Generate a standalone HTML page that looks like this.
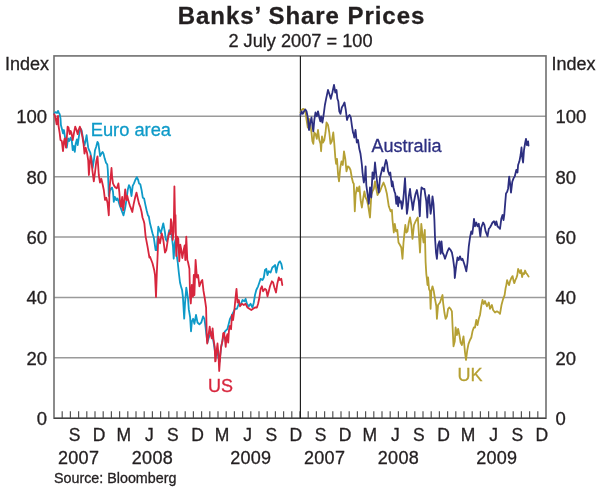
<!DOCTYPE html><html><head><meta charset="utf-8"><style>html,body{margin:0;padding:0;background:#fff;}svg{display:block;will-change:transform;}text{font-family:"Liberation Sans",sans-serif;fill:#231f20;stroke:#231f20;stroke-width:0.3px;}</style></head><body>
<svg width="600" height="488" viewBox="0 0 600 488">
<text x="301.5" y="24.4" font-size="24" font-weight="bold" letter-spacing="0.95" text-anchor="middle">Banks’ Share Prices</text>
<text x="300.5" y="47.3" font-size="18.2" text-anchor="middle">2 July 2007 = 100</text>
<line x1="54.0" y1="357.82" x2="546.0" y2="357.82" stroke="#9a9a9a" stroke-width="1.5"/>
<line x1="54.0" y1="297.44" x2="546.0" y2="297.44" stroke="#9a9a9a" stroke-width="1.5"/>
<line x1="54.0" y1="237.06" x2="546.0" y2="237.06" stroke="#9a9a9a" stroke-width="1.5"/>
<line x1="54.0" y1="176.68" x2="546.0" y2="176.68" stroke="#9a9a9a" stroke-width="1.5"/>
<line x1="54.0" y1="116.30" x2="546.0" y2="116.30" stroke="#9a9a9a" stroke-width="1.5"/>
<rect x="54.0" y="55.92" width="492.0" height="362.28" fill="none" stroke="#6f6f6f" stroke-width="1.6"/>
<line x1="62.20" y1="418.2" x2="62.20" y2="411.2" stroke="#555" stroke-width="1.2"/>
<line x1="70.40" y1="418.2" x2="70.40" y2="411.2" stroke="#555" stroke-width="1.2"/>
<line x1="78.60" y1="418.2" x2="78.60" y2="411.2" stroke="#555" stroke-width="1.2"/>
<line x1="86.80" y1="418.2" x2="86.80" y2="411.2" stroke="#555" stroke-width="1.2"/>
<line x1="95.00" y1="418.2" x2="95.00" y2="411.2" stroke="#555" stroke-width="1.2"/>
<line x1="103.20" y1="418.2" x2="103.20" y2="411.2" stroke="#555" stroke-width="1.2"/>
<line x1="111.40" y1="418.2" x2="111.40" y2="411.2" stroke="#555" stroke-width="1.2"/>
<line x1="119.60" y1="418.2" x2="119.60" y2="411.2" stroke="#555" stroke-width="1.2"/>
<line x1="127.80" y1="418.2" x2="127.80" y2="411.2" stroke="#555" stroke-width="1.2"/>
<line x1="136.00" y1="418.2" x2="136.00" y2="411.2" stroke="#555" stroke-width="1.2"/>
<line x1="144.20" y1="418.2" x2="144.20" y2="411.2" stroke="#555" stroke-width="1.2"/>
<line x1="152.40" y1="418.2" x2="152.40" y2="411.2" stroke="#555" stroke-width="1.2"/>
<line x1="160.60" y1="418.2" x2="160.60" y2="411.2" stroke="#555" stroke-width="1.2"/>
<line x1="168.80" y1="418.2" x2="168.80" y2="411.2" stroke="#555" stroke-width="1.2"/>
<line x1="177.00" y1="418.2" x2="177.00" y2="411.2" stroke="#555" stroke-width="1.2"/>
<line x1="185.20" y1="418.2" x2="185.20" y2="411.2" stroke="#555" stroke-width="1.2"/>
<line x1="193.40" y1="418.2" x2="193.40" y2="411.2" stroke="#555" stroke-width="1.2"/>
<line x1="201.60" y1="418.2" x2="201.60" y2="411.2" stroke="#555" stroke-width="1.2"/>
<line x1="209.80" y1="418.2" x2="209.80" y2="411.2" stroke="#555" stroke-width="1.2"/>
<line x1="218.00" y1="418.2" x2="218.00" y2="411.2" stroke="#555" stroke-width="1.2"/>
<line x1="226.20" y1="418.2" x2="226.20" y2="411.2" stroke="#555" stroke-width="1.2"/>
<line x1="234.40" y1="418.2" x2="234.40" y2="411.2" stroke="#555" stroke-width="1.2"/>
<line x1="242.60" y1="418.2" x2="242.60" y2="411.2" stroke="#555" stroke-width="1.2"/>
<line x1="250.80" y1="418.2" x2="250.80" y2="411.2" stroke="#555" stroke-width="1.2"/>
<line x1="259.00" y1="418.2" x2="259.00" y2="411.2" stroke="#555" stroke-width="1.2"/>
<line x1="267.20" y1="418.2" x2="267.20" y2="411.2" stroke="#555" stroke-width="1.2"/>
<line x1="275.40" y1="418.2" x2="275.40" y2="411.2" stroke="#555" stroke-width="1.2"/>
<line x1="283.60" y1="418.2" x2="283.60" y2="411.2" stroke="#555" stroke-width="1.2"/>
<line x1="291.80" y1="418.2" x2="291.80" y2="411.2" stroke="#555" stroke-width="1.2"/>
<line x1="300.00" y1="418.2" x2="300.00" y2="411.2" stroke="#555" stroke-width="1.2"/>
<line x1="308.20" y1="418.2" x2="308.20" y2="411.2" stroke="#555" stroke-width="1.2"/>
<line x1="316.40" y1="418.2" x2="316.40" y2="411.2" stroke="#555" stroke-width="1.2"/>
<line x1="324.60" y1="418.2" x2="324.60" y2="411.2" stroke="#555" stroke-width="1.2"/>
<line x1="332.80" y1="418.2" x2="332.80" y2="411.2" stroke="#555" stroke-width="1.2"/>
<line x1="341.00" y1="418.2" x2="341.00" y2="411.2" stroke="#555" stroke-width="1.2"/>
<line x1="349.20" y1="418.2" x2="349.20" y2="411.2" stroke="#555" stroke-width="1.2"/>
<line x1="357.40" y1="418.2" x2="357.40" y2="411.2" stroke="#555" stroke-width="1.2"/>
<line x1="365.60" y1="418.2" x2="365.60" y2="411.2" stroke="#555" stroke-width="1.2"/>
<line x1="373.80" y1="418.2" x2="373.80" y2="411.2" stroke="#555" stroke-width="1.2"/>
<line x1="382.00" y1="418.2" x2="382.00" y2="411.2" stroke="#555" stroke-width="1.2"/>
<line x1="390.20" y1="418.2" x2="390.20" y2="411.2" stroke="#555" stroke-width="1.2"/>
<line x1="398.40" y1="418.2" x2="398.40" y2="411.2" stroke="#555" stroke-width="1.2"/>
<line x1="406.60" y1="418.2" x2="406.60" y2="411.2" stroke="#555" stroke-width="1.2"/>
<line x1="414.80" y1="418.2" x2="414.80" y2="411.2" stroke="#555" stroke-width="1.2"/>
<line x1="423.00" y1="418.2" x2="423.00" y2="411.2" stroke="#555" stroke-width="1.2"/>
<line x1="431.20" y1="418.2" x2="431.20" y2="411.2" stroke="#555" stroke-width="1.2"/>
<line x1="439.40" y1="418.2" x2="439.40" y2="411.2" stroke="#555" stroke-width="1.2"/>
<line x1="447.60" y1="418.2" x2="447.60" y2="411.2" stroke="#555" stroke-width="1.2"/>
<line x1="455.80" y1="418.2" x2="455.80" y2="411.2" stroke="#555" stroke-width="1.2"/>
<line x1="464.00" y1="418.2" x2="464.00" y2="411.2" stroke="#555" stroke-width="1.2"/>
<line x1="472.20" y1="418.2" x2="472.20" y2="411.2" stroke="#555" stroke-width="1.2"/>
<line x1="480.40" y1="418.2" x2="480.40" y2="411.2" stroke="#555" stroke-width="1.2"/>
<line x1="488.60" y1="418.2" x2="488.60" y2="411.2" stroke="#555" stroke-width="1.2"/>
<line x1="496.80" y1="418.2" x2="496.80" y2="411.2" stroke="#555" stroke-width="1.2"/>
<line x1="505.00" y1="418.2" x2="505.00" y2="411.2" stroke="#555" stroke-width="1.2"/>
<line x1="513.20" y1="418.2" x2="513.20" y2="411.2" stroke="#555" stroke-width="1.2"/>
<line x1="521.40" y1="418.2" x2="521.40" y2="411.2" stroke="#555" stroke-width="1.2"/>
<line x1="529.60" y1="418.2" x2="529.60" y2="411.2" stroke="#555" stroke-width="1.2"/>
<line x1="537.80" y1="418.2" x2="537.80" y2="411.2" stroke="#555" stroke-width="1.2"/>
<line x1="54.0" y1="418.2" x2="546.0" y2="418.2" stroke="#333" stroke-width="1.15"/>
<line x1="300.4" y1="55.92" x2="300.4" y2="418.2" stroke="#1a1a1a" stroke-width="1.15"/>
<text x="47" y="425.20" font-size="18.5" text-anchor="end">0</text>
<text x="555.5" y="425.20" font-size="18.5" text-anchor="start">0</text>
<text x="47" y="364.82" font-size="18.5" text-anchor="end">20</text>
<text x="555.5" y="364.82" font-size="18.5" text-anchor="start">20</text>
<text x="47" y="304.44" font-size="18.5" text-anchor="end">40</text>
<text x="555.5" y="304.44" font-size="18.5" text-anchor="start">40</text>
<text x="47" y="244.06" font-size="18.5" text-anchor="end">60</text>
<text x="555.5" y="244.06" font-size="18.5" text-anchor="start">60</text>
<text x="47" y="183.68" font-size="18.5" text-anchor="end">80</text>
<text x="555.5" y="183.68" font-size="18.5" text-anchor="start">80</text>
<text x="47" y="123.30" font-size="18.5" text-anchor="end">100</text>
<text x="555.5" y="123.30" font-size="18.5" text-anchor="start">100</text>
<text x="5" y="69.8" font-size="18">Index</text>
<text x="551.5" y="70" font-size="18">Index</text>
<text x="74.50" y="441.3" font-size="17.5" text-anchor="middle">S</text>
<text x="99.10" y="441.3" font-size="17.5" text-anchor="middle">D</text>
<text x="123.70" y="441.3" font-size="17.5" text-anchor="middle">M</text>
<text x="149.30" y="441.3" font-size="17.5" text-anchor="middle">J</text>
<text x="172.90" y="441.3" font-size="17.5" text-anchor="middle">S</text>
<text x="197.50" y="441.3" font-size="17.5" text-anchor="middle">D</text>
<text x="222.10" y="441.3" font-size="17.5" text-anchor="middle">M</text>
<text x="247.70" y="441.3" font-size="17.5" text-anchor="middle">J</text>
<text x="271.30" y="441.3" font-size="17.5" text-anchor="middle">S</text>
<text x="295.90" y="441.3" font-size="17.5" text-anchor="middle">D</text>
<text x="78.60" y="463.5" font-size="18" text-anchor="middle" letter-spacing="0.3">2007</text>
<text x="152.40" y="463.5" font-size="18" text-anchor="middle" letter-spacing="0.3">2008</text>
<text x="250.80" y="463.5" font-size="18" text-anchor="middle" letter-spacing="0.3">2009</text>
<text x="320.50" y="441.3" font-size="17.5" text-anchor="middle">S</text>
<text x="345.10" y="441.3" font-size="17.5" text-anchor="middle">D</text>
<text x="369.70" y="441.3" font-size="17.5" text-anchor="middle">M</text>
<text x="395.30" y="441.3" font-size="17.5" text-anchor="middle">J</text>
<text x="418.90" y="441.3" font-size="17.5" text-anchor="middle">S</text>
<text x="443.50" y="441.3" font-size="17.5" text-anchor="middle">D</text>
<text x="468.10" y="441.3" font-size="17.5" text-anchor="middle">M</text>
<text x="493.70" y="441.3" font-size="17.5" text-anchor="middle">J</text>
<text x="517.30" y="441.3" font-size="17.5" text-anchor="middle">S</text>
<text x="541.90" y="441.3" font-size="17.5" text-anchor="middle">D</text>
<text x="324.60" y="463.5" font-size="18" text-anchor="middle" letter-spacing="0.3">2007</text>
<text x="398.40" y="463.5" font-size="18" text-anchor="middle" letter-spacing="0.3">2008</text>
<text x="496.80" y="463.5" font-size="18" text-anchor="middle" letter-spacing="0.3">2009</text>
<text x="54" y="482.5" font-size="14.3">Source: Bloomberg</text>
<path d="M54.2,114.0 L54.6,113.0 L55.9,112.1 L57.1,113.0 L58.0,110.9 L58.8,112.6 L59.7,114.2 L60.5,118.4 L60.9,125.0 L62.2,130.0 L63.0,133.4 L63.9,130.0 L64.7,135.1 L66.0,143.5 L66.8,147.7 L68.1,138.4 L69.3,141.0 L70.6,137.6 L71.8,141.0 L72.7,150.2 L73.9,146.0 L74.8,151.9 L75.6,144.3 L76.9,139.3 L77.7,145.2 L79.0,135.9 L80.3,128.4 L81.5,130.0 L82.8,136.8 L83.6,141.8 L84.5,145.2 L85.7,140.1 L86.6,135.1 L87.4,141.8 L88.2,147.7 L89.1,150.2 L90.3,152.7 L91.6,158.6 L92.6,168.0 L94.1,158.6 L95.0,150.2 L96.2,146.8 L97.5,141.8 L98.4,143.5 L99.3,150.2 L100.1,156.1 L101.4,153.6 L102.6,151.9 L103.5,153.6 L104.7,158.6 L106.0,162.8 L107.3,164.5 L107.8,170.0 L108.4,183.4 L108.8,196.0 L109.6,191.8 L110.9,188.4 L112.1,187.6 L113.0,191.8 L113.8,201.9 L114.7,196.8 L115.5,197.7 L116.3,200.2 L117.6,198.5 L118.4,201.1 L119.7,205.3 L121.0,208.6 L122.2,212.0 L123.5,215.3 L125.2,207.8 L126.4,200.2 L127.7,190.1 L129.0,185.1 L130.2,187.6 L131.5,196.0 L132.7,185.9 L134.0,183.4 L135.3,180.0 L136.8,177.1 L138.2,180.0 L139.0,183.4 L140.3,184.2 L141.6,190.1 L142.8,197.7 L144.1,198.5 L145.3,204.4 L146.6,210.3 L147.9,215.3 L148.8,216.3 L150.0,223.3 L152.5,233.3 L153.8,237.5 L155.6,250.0 L156.7,250.0 L158.3,226.7 L160.8,233.3 L163.3,223.3 L165.0,232.7 L165.7,239.3 L167.0,241.3 L169.2,230.1 L171.7,235.3 L173.0,246.7 L173.7,258.7 L174.7,243.3 L175.7,238.7 L176.7,255.3 L177.7,262.0 L178.8,272.5 L180.0,282.5 L181.3,287.6 L182.1,290.1 L182.9,296.8 L184.2,318.7 L185.0,303.5 L186.3,287.6 L187.1,292.6 L188.0,298.5 L188.8,309.4 L190.1,317.0 L191.0,331.3 L191.9,321.3 L193.1,318.8 L194.4,323.8 L196.0,315.0 L197.5,322.5 L199.4,324.4 L201.3,322.5 L203.1,316.3 L204.4,318.8 L205.6,327.5 L206.3,333.8 L207.5,342.5 L208.8,337.5 L210.0,335.0 L212.0,332.0 L214.0,345.0 L215.5,355.0 L217.0,350.0 L218.5,358.0 L219.5,362.0 L221.0,348.0 L223.0,338.0 L225.0,331.3 L227.5,328.8 L230.0,318.8 L232.5,313.8 L235.0,308.8 L236.9,308.8 L238.8,303.8 L240.6,305.0 L242.5,300.0 L244.4,301.3 L245.6,298.8 L246.9,303.8 L248.8,306.3 L250.6,303.8 L252.5,307.5 L253.8,302.5 L255.0,295.0 L256.3,290.0 L258.1,286.3 L259.4,282.5 L260.6,278.8 L262.5,280.0 L263.8,277.5 L265.0,270.0 L266.3,268.8 L267.5,275.0 L268.8,271.3 L270.6,272.5 L272.3,267.5 L273.8,266.3 L275.0,265.0 L276.3,272.5 L277.5,266.3 L278.8,262.5 L280.0,261.3 L281.3,263.8 L282.3,268.8" fill="none" stroke="#0e9ac8" stroke-width="1.8" stroke-linejoin="round" stroke-linecap="round"/>
<path d="M54.2,114.2 L55.0,115.9 L55.9,120.1 L56.6,124.3 L57.1,119.3 L58.0,115.9 L58.4,125.0 L59.7,133.4 L60.5,140.1 L61.8,141.0 L63.0,151.1 L63.9,141.8 L64.7,138.4 L66.0,147.7 L66.8,137.6 L67.6,126.7 L68.5,127.5 L69.7,134.2 L70.6,130.9 L71.4,132.6 L72.7,140.1 L73.9,133.4 L75.2,126.7 L76.5,130.0 L77.7,134.2 L78.6,130.0 L79.8,126.7 L81.1,130.0 L82.4,136.8 L83.6,144.3 L84.5,153.6 L85.7,147.7 L87.0,152.7 L88.2,160.3 L88.9,175.0 L89.7,164.0 L90.5,156.0 L91.3,160.0 L92.5,171.3 L93.8,181.3 L95.0,172.5 L96.3,161.3 L97.5,156.3 L98.8,175.0 L100.0,182.5 L101.3,178.8 L102.5,183.8 L103.8,190.0 L105.0,200.0 L106.3,197.7 L107.5,202.7 L108.8,215.3 L109.6,187.6 L110.9,175.0 L111.5,168.0 L112.1,176.7 L113.0,183.4 L114.2,185.9 L115.5,187.6 L116.8,188.4 L117.6,185.9 L118.4,183.4 L119.3,191.8 L120.1,202.7 L121.0,206.9 L122.2,196.8 L123.1,210.3 L123.9,204.4 L125.2,189.3 L126.4,200.2 L127.3,196.0 L128.5,201.1 L129.8,205.3 L131.1,208.6 L132.3,212.0 L133.6,204.4 L135.3,196.8 L136.5,192.6 L137.8,198.5 L139.0,203.6 L140.3,206.9 L141.6,212.0 L142.5,217.5 L143.8,221.3 L144.4,223.8 L145.6,236.3 L147.5,246.3 L149.4,257.5 L150.0,256.7 L152.5,263.3 L154.2,270.0 L155.0,275.0 L156.0,296.9 L156.9,271.3 L157.5,258.3 L158.3,236.7 L160.0,243.3 L161.7,233.3 L163.3,240.0 L165.0,252.7 L166.3,250.0 L167.3,243.3 L168.3,236.7 L169.3,232.7 L170.3,234.0 L170.9,219.2 L171.7,222.6 L172.7,240.0 L173.7,232.0 L174.4,186.3 L175.0,216.3 L175.5,215.0 L176.3,256.0 L177.3,236.7 L178.3,238.7 L179.3,261.3 L180.3,244.7 L181.3,250.0 L182.3,258.0 L183.7,250.0 L184.7,245.3 L185.3,260.0 L186.3,236.7 L187.3,260.0 L188.0,262.0 L188.1,262.5 L189.4,268.8 L190.1,296.8 L190.8,303.5 L191.8,285.0 L193.0,296.8 L193.8,275.0 L194.4,295.0 L195.6,260.0 L196.9,277.5 L198.1,275.0 L199.4,286.3 L201.3,281.3 L202.3,280.0 L203.5,290.9 L204.8,298.5 L206.1,307.7 L206.8,337.6 L207.2,343.5 L208.4,335.9 L209.7,326.7 L210.5,333.4 L211.8,338.4 L212.6,328.4 L213.5,339.3 L214.7,346.8 L215.2,361.4 L215.6,361.1 L216.4,352.7 L217.5,343.5 L218.4,353.6 L219.2,371.0 L220.2,356.9 L221.1,346.8 L222.3,341.8 L223.2,333.4 L224.0,332.6 L224.8,337.6 L225.7,346.8 L226.5,337.6 L227.4,334.2 L228.2,342.6 L229.0,330.0 L229.9,325.8 L231.1,329.2 L231.9,315.0 L233.1,320.0 L234.4,310.0 L235.6,297.0 L236.5,288.8 L237.5,302.5 L238.8,300.0 L240.0,306.3 L241.9,303.8 L243.8,305.0 L245.6,303.8 L247.5,307.5 L249.4,308.8 L251.3,310.0 L253.1,308.8 L255.0,307.5 L256.9,307.5 L258.1,303.8 L259.4,297.5 L260.6,288.8 L261.9,286.3 L263.1,291.3 L265.0,288.8 L266.3,290.0 L267.5,296.3 L268.8,291.3 L270.0,286.3 L271.9,281.3 L273.1,282.5 L274.4,287.5 L276.0,292.5 L277.3,283.8 L278.8,277.5 L280.0,280.0 L281.3,278.8 L282.3,285.0" fill="none" stroke="#d7263d" stroke-width="1.8" stroke-linejoin="round" stroke-linecap="round"/>
<path d="M300.5,112.5 L301.8,110.0 L303.0,108.8 L304.3,109.4 L305.5,112.5 L306.8,121.3 L307.8,127.5 L309.0,118.8 L310.3,125.0 L311.5,132.5 L312.4,141.3 L313.3,143.8 L314.3,132.5 L315.5,133.8 L316.8,138.8 L318.0,130.0 L319.3,140.0 L320.5,143.8 L321.1,151.3 L322.0,136.3 L323.0,142.5 L324.3,140.0 L325.5,132.5 L326.5,122.5 L328.0,125.0 L329.3,132.5 L330.5,143.8 L331.8,141.3 L333.3,132.5 L334.3,143.8 L335.3,157.5 L336.1,163.8 L337.0,158.8 L338.0,173.8 L339.0,181.3 L340.3,167.5 L341.5,161.3 L342.8,165.0 L344.0,151.3 L345.3,158.8 L346.5,171.3 L347.8,166.3 L349.3,167.5 L350.5,170.0 L351.8,177.5 L353.0,182.5 L353.8,183.8 L354.8,211.3 L355.6,195.0 L356.9,187.5 L358.1,191.3 L359.4,186.3 L360.6,200.0 L361.9,207.5 L363.1,198.8 L364.4,191.3 L365.6,197.5 L366.9,200.0 L368.1,205.0 L370.0,217.5 L371.3,195.0 L372.5,191.3 L373.8,188.8 L375.0,181.3 L376.3,188.8 L377.5,195.0 L378.8,192.5 L380.0,191.3 L381.9,186.3 L383.5,182.5 L385.0,186.3 L386.9,193.8 L388.8,206.3 L390.6,211.3 L391.9,210.0 L392.5,220.0 L393.8,232.5 L394.8,223.8 L396.0,231.3 L397.3,230.0 L398.5,242.5 L400.0,245.0 L401.3,247.5 L402.5,258.8 L403.5,242.5 L404.4,233.8 L405.3,225.0 L406.3,232.5 L407.5,231.3 L408.8,222.5 L410.0,217.5 L411.3,225.0 L412.5,238.8 L414.0,225.0 L415.6,221.3 L416.9,218.8 L417.8,217.5 L418.8,232.5 L420.0,252.5 L421.3,223.8 L422.5,235.0 L423.5,242.5 L424.8,230.0 L425.6,262.0 L426.3,273.8 L426.9,278.8 L427.5,285.0 L428.1,277.5 L429.0,288.8 L430.0,291.3 L430.6,308.8 L431.3,291.3 L432.5,286.3 L433.8,291.3 L435.0,299.0 L436.3,306.0 L436.9,318.8 L438.1,305.0 L440.0,302.5 L442.5,295.0 L443.1,302.5 L444.4,312.5 L445.6,318.8 L446.9,316.3 L448.1,308.8 L449.4,307.5 L450.6,308.8 L451.9,311.3 L452.5,325.0 L453.5,346.3 L454.8,341.3 L455.6,327.5 L456.9,335.0 L458.1,328.8 L459.4,335.0 L460.6,342.5 L461.9,345.0 L463.5,336.3 L465.0,352.5 L466.0,360.0 L467.3,350.0 L468.5,343.8 L470.0,340.0 L471.3,337.5 L472.5,331.3 L473.8,327.5 L475.0,327.5 L476.3,320.0 L477.5,325.0 L478.8,318.8 L480.0,315.0 L481.3,306.0 L482.5,300.0 L483.8,304.0 L485.0,301.0 L486.9,306.3 L488.8,302.5 L490.0,308.8 L491.9,305.0 L493.1,310.0 L495.0,312.5 L496.9,311.3 L498.8,312.5 L500.0,313.8 L501.5,305.0 L503.1,299.1 L504.6,295.1 L505.6,288.1 L506.3,285.1 L507.1,280.1 L508.1,283.1 L509.1,285.1 L510.1,281.1 L511.3,278.1 L512.6,276.1 L513.6,281.1 L514.3,283.1 L515.3,280.1 L516.3,278.1 L517.3,275.1 L518.1,269.0 L519.1,271.0 L520.1,273.1 L521.1,270.0 L522.1,277.1 L523.1,273.1 L524.1,274.1 L525.1,270.5 L526.1,273.1 L527.1,274.1 L528.6,276.6" fill="none" stroke="#b5a034" stroke-width="1.8" stroke-linejoin="round" stroke-linecap="round"/>
<path d="M300.5,115.0 L301.5,111.3 L302.8,113.8 L304.0,111.3 L305.3,109.4 L306.5,111.3 L307.8,117.5 L309.0,130.0 L310.3,122.5 L311.5,117.5 L312.4,125.0 L313.3,131.3 L314.3,120.0 L315.5,112.5 L316.8,116.3 L318.0,111.3 L319.3,117.5 L320.3,121.3 L321.1,116.3 L322.4,122.5 L323.6,115.0 L324.9,105.0 L326.1,98.8 L328.0,90.0 L329.3,93.8 L330.8,98.8 L332.4,92.5 L334.0,85.0 L335.3,92.5 L336.5,90.0 L337.4,98.8 L338.3,101.3 L339.3,111.3 L340.5,113.8 L341.8,107.5 L343.3,105.0 L344.5,102.5 L345.8,110.0 L347.0,120.0 L348.3,116.3 L349.5,115.0 L350.8,117.5 L352.0,126.3 L353.0,132.5 L353.6,133.8 L354.3,137.5 L355.5,130.0 L356.8,142.5 L358.0,140.0 L359.3,148.8 L360.5,153.8 L361.3,160.0 L361.9,165.0 L362.5,172.5 L363.8,182.5 L365.0,176.3 L365.6,166.3 L366.3,185.0 L367.5,193.8 L368.8,203.8 L370.0,187.5 L371.3,197.5 L372.5,172.5 L373.8,178.8 L375.0,162.5 L376.3,175.0 L377.5,185.0 L378.8,192.5 L380.0,177.5 L381.3,172.5 L382.5,167.5 L383.8,171.3 L384.8,165.0 L386.0,160.0 L386.9,162.5 L388.1,171.3 L389.4,175.0 L390.3,172.5 L391.0,178.8 L391.9,186.3 L392.5,181.3 L393.5,187.5 L394.4,191.3 L395.3,193.8 L396.3,203.8 L397.3,196.3 L398.1,206.3 L399.0,197.5 L400.0,202.5 L401.0,201.3 L401.9,208.8 L402.8,203.8 L403.8,193.8 L405.0,178.1 L406.0,197.5 L406.9,213.8 L407.8,207.5 L408.8,196.3 L410.0,188.8 L411.0,197.5 L411.9,202.5 L412.8,210.0 L413.8,202.5 L414.8,197.5 L415.6,193.8 L416.9,190.0 L417.8,195.0 L418.8,201.3 L419.8,216.3 L420.6,197.5 L421.5,187.5 L423.1,188.8 L424.4,188.8 L425.3,195.0 L426.3,201.3 L427.3,217.5 L428.1,197.5 L429.0,195.0 L429.8,203.8 L430.6,213.8 L431.5,207.5 L432.5,196.3 L433.5,203.8 L434.4,220.0 L435.0,237.5 L436.0,252.5 L436.9,258.8 L438.1,245.0 L439.4,241.3 L440.6,253.8 L441.5,241.3 L442.5,252.5 L443.8,255.0 L445.0,258.8 L446.3,255.0 L447.5,251.3 L449.0,248.1 L450.6,250.0 L451.9,252.5 L453.1,258.8 L454.4,268.8 L454.8,278.0 L456.3,265.0 L457.5,257.5 L458.8,260.0 L460.0,256.3 L461.3,260.0 L462.5,258.8 L463.8,262.5 L465.0,266.3 L466.3,271.3 L467.5,262.5 L468.8,246.3 L470.0,237.5 L471.3,231.3 L472.3,233.8 L473.1,227.5 L474.0,218.8 L475.0,226.3 L476.3,222.5 L477.5,226.3 L478.8,223.8 L480.3,236.3 L481.3,227.5 L483.1,222.5 L484.4,225.0 L485.6,231.3 L487.5,236.3 L488.8,228.8 L490.0,227.5 L491.3,225.0 L492.5,222.5 L494.0,221.3 L495.3,225.0 L496.3,221.3 L497.5,226.3 L498.8,227.5 L500.0,228.8 L501.3,218.8 L502.5,215.0 L503.5,220.0 L504.3,214.5 L505.1,204.4 L506.0,193.5 L507.2,191.8 L508.1,188.4 L509.2,176.7 L510.2,184.2 L511.0,192.6 L512.3,181.7 L513.5,178.4 L514.8,176.3 L516.3,170.0 L517.5,172.5 L518.1,165.0 L519.4,161.3 L520.6,155.0 L521.5,147.5 L522.3,157.5 L523.1,162.5 L524.0,150.0 L525.0,143.8 L526.0,138.8 L526.9,145.0 L528.1,141.3 L528.5,145.6" fill="none" stroke="#2d2f80" stroke-width="1.8" stroke-linejoin="round" stroke-linecap="round"/>
<text x="90.7" y="136.2" font-size="18.3" style="fill:#0e9ac8;stroke:#0e9ac8">Euro area</text>
<text x="208" y="392.3" font-size="18" style="fill:#d7263d;stroke:#d7263d">US</text>
<text x="371.5" y="152" font-size="18" style="fill:#2d2f80;stroke:#2d2f80">Australia</text>
<text x="457.5" y="381" font-size="18" style="fill:#b5a034;stroke:#b5a034">UK</text>
</svg></body></html>
